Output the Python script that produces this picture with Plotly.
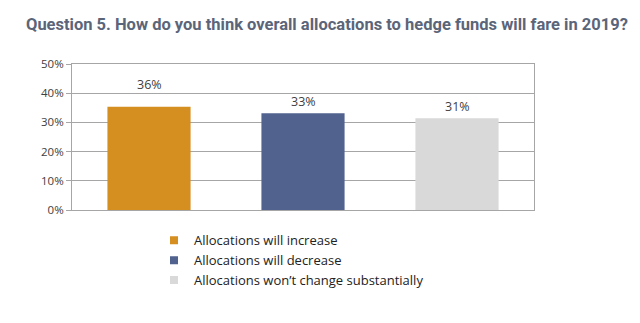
import plotly.graph_objects as go

categories = ["Allocations will increase", "Allocations will decrease", "Allocations won\u2019t change substantially"]
values = [35.4, 33.1, 31.4]
labels = ["36%", "33%", "31%"]
colors = ["#D58F21", "#52628F", "#D9D9D9"]
label_shift = [22, 12, 12]
y_ticks = [0, 10, 20, 30, 40, 50]
y_tick_labels = ["0%", "10%", "20%", "30%", "40%", "50%"]

fig = go.Figure()
for c, v, col in zip(categories, values, colors):
    fig.add_trace(go.Bar(
        x=[c], y=[v], name=c, showlegend=False,
        marker=dict(color=col, line=dict(width=0)),
    ))
for c, col in zip(categories, colors):
    fig.add_trace(go.Scatter(
        x=[None], y=[None], mode="markers", name=c,
        marker=dict(symbol="square", size=8, color=col),
    ))
for c, v, l, s in zip(categories, values, labels, label_shift):
    fig.add_annotation(x=c, y=v, text=l, showarrow=False, yshift=s,
                       yanchor="middle",
                       font=dict(family="Open Sans", size=12.5, color="#404040"))

fig.update_layout(
    width=640, height=323,
    margin=dict(l=72, r=106, t=64, b=113),
    paper_bgcolor="white", plot_bgcolor="white",
    barmode="overlay", bargap=0.46,
    title=dict(text="<b>Question 5. How do you think overall allocations to hedge funds will fare in 2019?</b>",
               x=26/640, xanchor="left", y=1-24/323, yanchor="middle",
               font=dict(family="Roboto", size=16.5, color="#5B6579")),
    legend=dict(x=(154-72)/462, y=-0.105, xanchor="left", yanchor="top",
                font=dict(family="Open Sans", size=13, color="#222222"),
                tracegroupgap=0, bgcolor="rgba(0,0,0,0)"),
    showlegend=True,
)
fig.update_xaxes(showticklabels=False, showline=True, linecolor="#A6A6A6", linewidth=1,
                 mirror=True, showgrid=False, ticks="")
fig.update_yaxes(range=[0, 50], tickvals=y_ticks, ticktext=y_tick_labels,
                 showgrid=True, gridcolor="#A6A6A6", gridwidth=1,
                 showline=True, linecolor="#A6A6A6", linewidth=1, mirror=True,
                 ticks="outside", ticklen=5, tickcolor="#A6A6A6",
                 tickfont=dict(family="Open Sans", size=11.5, color="#404040"),
                 zeroline=False)

fig.write_html("out.html")
